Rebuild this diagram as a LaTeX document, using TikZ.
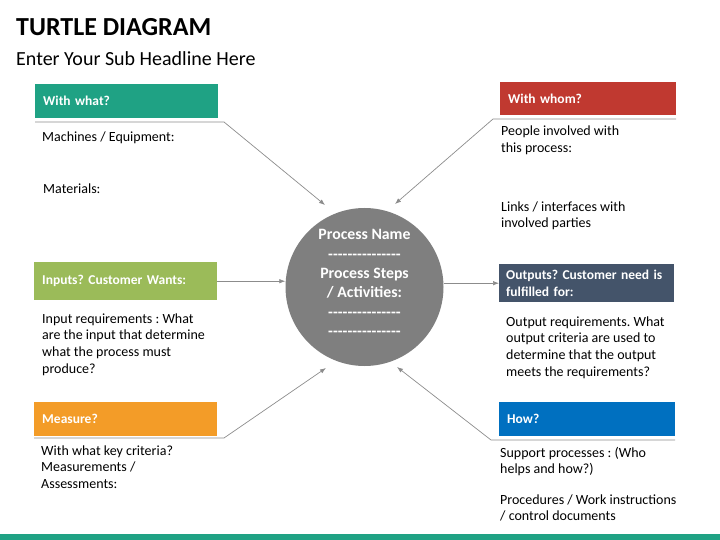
\documentclass[tikz,border=0pt]{standalone}
\usepackage{fontspec}
\setmainfont{Carlito}
\usetikzlibrary{arrows.meta}
\frenchspacing
\definecolor{tealbox}{RGB}{31,162,132}
\definecolor{redbox}{RGB}{192,57,48}
\definecolor{greenbox}{RGB}{155,187,89}
\definecolor{slatebox}{RGB}{68,84,106}
\definecolor{orangebox}{RGB}{243,156,40}
\definecolor{bluebox}{RGB}{0,112,192}
\definecolor{circgray}{RGB}{127,127,127}
\definecolor{linegray}{RGB}{140,140,140}
\newcommand\dashrow{-{}-{}-{}-{}-{}-{}-{}-{}-{}-{}-{}-{}-{}-{}-}
\tikzset{
  hdbox/.style={anchor=north west, inner xsep=8pt, inner ysep=0pt, text=white,
    font=\bfseries\fontsize{13.5}{16.5}\selectfont, align=left},
  body/.style={anchor=base west, inner sep=0pt, align=left,
    font=\fontsize{14}{16.8}\selectfont},
  conn/.style={draw=linegray, line width=0.7pt},
  arr/.style={conn, -{Latex[length=6pt,width=4.5pt]}},
}
\begin{document}
\begin{tikzpicture}[x=1pt,y=-1pt]
\useasboundingbox (0,0) rectangle (720,540);
% headline
\node[anchor=base west, inner sep=0pt, font=\bfseries\fontsize{26}{30}\selectfont] (ttl) at (16,36) {TURTLE DIAGRAM};
\node[anchor=base west, inner sep=0pt, font=\fontsize{20}{24}\selectfont] (sub) at (16,66) {Enter Your Sub Headline Here};
% process
\node[circle, fill=circgray, minimum size=158pt, inner sep=0pt] (proc) at (364.5,287) {};
\node[text=white, align=center, font=\bfseries\fontsize{15.8}{19.4}\selectfont] (ptxt) at (364.5,283)
  {Process Name\\\dashrow\\Process Steps\\/ Activities:\\\dashrow\\\dashrow};
% boxes
\node[hdbox, fill=tealbox, text width=167pt, minimum height=34pt] (wwhat) at (35,84) {With what?};
\node[hdbox, fill=redbox, text width=160pt, minimum height=33pt] (wwhom) at (500,82) {With whom?};
\node[hdbox, fill=greenbox, text width=167pt, minimum height=38pt] (inp) at (34,262) {Inputs? Customer Wants:};
\node[hdbox, fill=slatebox, text width=161pt, inner xsep=7pt, minimum height=38pt] (outp) at (499,264) {Outputs? Customer need is\\fulfilled for:};
\node[hdbox, fill=orangebox, text width=167pt, minimum height=34pt] (meas) at (34,402) {Measure?};
\node[hdbox, fill=bluebox, text width=160pt, minimum height=34pt] (how) at (499,402) {How?};
% texts (anchored at the last line)
\node[body] (b1) at (42,142) {Machines / Equipment:};
\node[body] (b2) at (43,194) {Materials:};
\node[body] (b3) at (42,373.4) {Input requirements : What\\are the input that determine\\what the process must\\produce?};
\node[body] (b4) at (41,488.6) {With what key criteria?\\Measurements /\\Assessments:};
\node[body] (b5) at (501,152.8) {People involved with\\this process:};
\node[body] (b6) at (501,227.8) {Links / interfaces with\\involved parties};
\node[body] (b7) at (506,376.4) {Output requirements. What\\output criteria are used to\\determine that the output\\meets the requirements?};
\node[body] (b8) at (500,473.8) {Support processes : (Who\\helps and how?)};
\node[body] (b9) at (500,520.8) {Procedures / Work instructions\\/ control documents};
% connectors
\coordinate (u1) at (35,122);   \coordinate (k1) at (224,122); \coordinate (t1) at (325,205);
\coordinate (u2) at (676,119);  \coordinate (k2) at (493,119); \coordinate (t2) at (395,204);
\coordinate (u3) at (34,438);   \coordinate (k3) at (224,438); \coordinate (t3) at (326,368);
\coordinate (u4) at (675,440);  \coordinate (k4) at (491,440); \coordinate (t4) at (397,367);
\draw[arr] (u1) -- (k1) -- (t1);
\draw[arr] (u2) -- (k2) -- (t2);
\draw[arr] (u3) -- (k3) -- (t3);
\draw[arr] (u4) -- (k4) -- (t4);
\draw[arr] (inp.east) -- (inp.east -| proc.west);
\draw[arr] (proc.east |- outp.west) -- (outp.west);
% bottom bar
\fill[tealbox] (0,534) rectangle (720,540);
\end{tikzpicture}
\end{document}
